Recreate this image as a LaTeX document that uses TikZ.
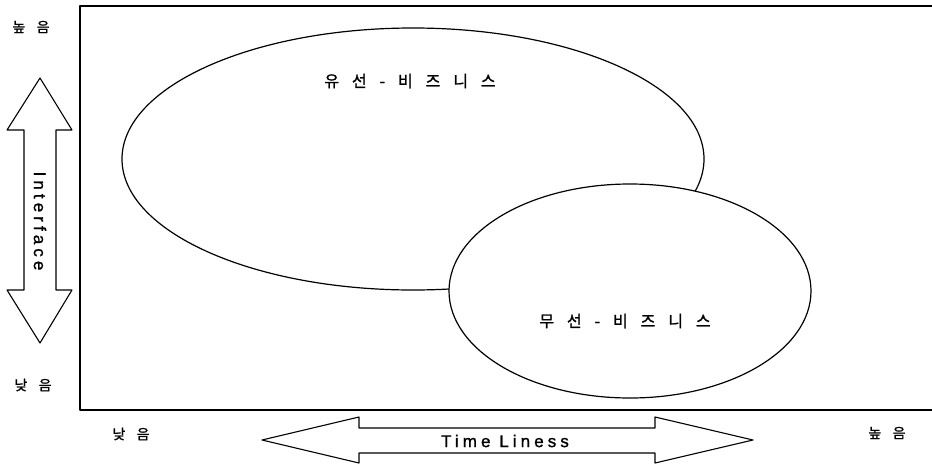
\documentclass[tikz,border=0pt]{standalone}
\usepackage{fontspec}
\setmainfont{Liberation Sans}
\newfontfamily\kr[WordSpace=3.6,FakeBold=1.2]{Noto Sans CJK KR}
\newfontfamily\spaced[LetterSpace=24,FakeBold=1.2]{Liberation Sans}
\begin{document}
\begin{tikzpicture}[x=1pt,y=-1pt,line join=round,
	frame/.style={line width=1.6pt},
	bubble/.style={line width=1.2pt,fill=white},
	bigarrow/.style={line width=1.1pt,fill=white},
	kor/.style={font=\kr\fontsize{16}{16}\selectfont},
	lvl/.style={font=\kr\fontsize{14}{14}\selectfont,inner sep=0pt},
	axis/.style={font=\spaced\fontsize{17}{17}\selectfont,inner sep=0pt}]
	\useasboundingbox (0,0) rectangle (932,466);
	% frame
	\draw[frame] (932,6) -- (80,6) -- (80,410) -- (932,410);
	% markets
	\draw[bubble] (413,159) ellipse (291pt and 131pt);
	\draw[bubble] (630,291) ellipse (181pt and 107pt);
	\node[kor] (wired) at (410,81) {유 선 - 비 즈 니 스};
	\node[kor] (wireless) at (625,321) {무 선 - 비 즈 니 스};
	% interface axis
	\draw[bigarrow] (40,78) -- (72,130) -- (56,130) -- (56,290) -- (72,290) -- (40,343)
		-- (7,290) -- (24,290) -- (24,130) -- (7,130) -- cycle;
	\node[axis,rotate=-90] (iface) at (40,221) {Interface};
	\node[lvl] (ihigh) at (31,27) {높 음};
	\node[lvl] (ilow) at (33,385) {낮 음};
	% time liness axis
	\draw[bigarrow] (262,440) -- (359,417) -- (359,428) -- (655,428) -- (655,417) -- (753,440)
		-- (655,463) -- (655,453) -- (359,453) -- (359,463) -- cycle;
	\node[axis] (tline) at (505,441) {Time Liness};
	\node[lvl] (tlow) at (131,434) {낮 음};
	\node[lvl] (thigh) at (887,433) {높 음};
\end{tikzpicture}
\end{document}
